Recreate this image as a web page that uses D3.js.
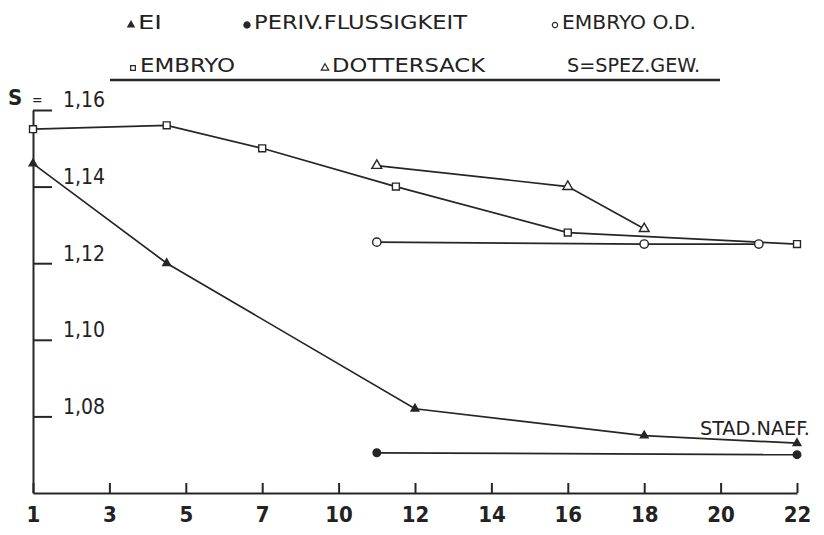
<!DOCTYPE html>
<html lang="de">
<head>
<meta charset="UTF-8">
<title>Spez. Gewicht</title>
<style>
	*{margin:0;padding:0;}
	body{background:#fff;}
	#chart{width:824px;height:535px;}
	text{font-family:"DejaVu Sans Condensed","DejaVu Sans",sans-serif;fill:#222;}
</style>
</head>
<body>
<div id="chart"></div>
<script src="https://cdn.jsdelivr.net/npm/d3@7"></script>
<script>
// stadien (x) und spez. gewicht (y)
var stageTicks = [1, 3, 5, 7, 10, 12, 14, 16, 18, 20, 22]
var sTicks = [1.08, 1.10, 1.12, 1.14, 1.16]

var eiStage = [1, 4.5, 12, 18, 22]
var eiS = [1.146, 1.120, 1.082, 1.075, 1.073]

var perivStage = [11, 22]
var perivS = [1.0705, 1.070]

var odStage = [11, 18, 21]
var odS = [1.1255, 1.125, 1.125]

var embryoStage = [1, 4.5, 7, 11.5, 16, 22]
var embryoS = [1.155, 1.156, 1.150, 1.140, 1.128, 1.125]

var dotterStage = [11, 16, 18]
var dotterS = [1.1455, 1.140, 1.129]

var W = 824, H = 535
var x0 = 33, x1 = 797, yTop = 110, yBot = 493
var ink = '#262626'
var font = '"DejaVu Sans Condensed","DejaVu Sans",sans-serif'

var svg = d3.select('#chart').append('svg').attr('width', W).attr('height', H)

// x axis: stages are drawn at equal spacing
var step = (x1 - x0) / (stageTicks.length - 1)
var scale_x = d3.scaleLinear()
	.domain(stageTicks)
	.range(stageTicks.map(function(d, i){ return x0 + i * step }))
var scale_y = d3.scaleLinear().domain([1.06, 1.16]).range([yBot, yTop])

var xAxis = d3.axisBottom(scale_x).tickValues(stageTicks).tickFormat(d3.format('d'))
	.tickSizeInner(-10).tickSizeOuter(0).tickPadding(13)
var gx = svg.append('g').attr('transform', `translate(0,${yBot})`).call(xAxis)
gx.select('.domain').attr('stroke', ink).attr('stroke-width', 2.2)
gx.selectAll('.tick line').attr('stroke', ink).attr('stroke-width', 2)
gx.selectAll('.tick text').attr('font-size', 22).attr('font-weight', 'bold')
	.style('font-family', font).attr('fill', ink)

var yAxis = d3.axisRight(scale_y).tickValues(sTicks)
	.tickFormat(function(d){ return d3.format('.2f')(d).replace('.', ',') })
	.tickSizeInner(19).tickSizeOuter(0).tickPadding(11)
var gy = svg.append('g').attr('transform', `translate(${x0},0)`).call(yAxis)
gy.select('.domain').attr('stroke', ink).attr('stroke-width', 2)
gy.selectAll('.tick line').attr('stroke', ink).attr('stroke-width', 2)
gy.selectAll('.tick text').attr('font-size', 21).attr('dy', '-0.15em')
	.style('font-family', font).attr('fill', ink)

svg.append('text').attr('x', 8).attr('y', 105).attr('font-size', 22).attr('font-weight', 'bold').text('S')
svg.append('text').attr('x', 32).attr('y', 105).attr('font-size', 14).text('=')

// series
var line = d3.line().x(function(d){ return scale_x(d[0]) }).y(function(d){ return scale_y(d[1]) })

var series = [
	{stage: embryoStage, s: embryoS, sym: d3.symbolSquare, size: 48, fill: '#fff'},
	{stage: dotterStage, s: dotterS, sym: d3.symbolTriangle, size: 42, fill: '#fff'},
	{stage: odStage, s: odS, sym: d3.symbolCircle, size: 55, fill: '#fff'},
	{stage: eiStage, s: eiS, sym: d3.symbolTriangle, size: 26, fill: ink},
	{stage: perivStage, s: perivS, sym: d3.symbolCircle, size: 45, fill: ink}
]

series.forEach(function(sr){
	var pts = sr.stage.map(function(d, i){ return [d, sr.s[i]] })
	svg.append('path').attr('d', line(pts))
		.attr('fill', 'none').attr('stroke', ink).attr('stroke-width', 1.7)
	svg.append('g').selectAll('path').data(pts).enter().append('path')
		.attr('d', d3.symbol().type(sr.sym).size(sr.size))
		.attr('transform', function(d){ return `translate(${scale_x(d[0])},${scale_y(d[1])})` })
		.attr('fill', sr.fill).attr('stroke', ink).attr('stroke-width', 1.4)
})

svg.append('text').attr('x', 700).attr('y', 435).attr('font-size', 19)
	.attr('textLength', 110).attr('lengthAdjust', 'spacingAndGlyphs').text('STAD.NAEF.')

// legend
var legend = [
	{label: 'EI', x: 131, y: 29, sym: d3.symbolTriangle, size: 18, fill: ink, w: 24},
	{label: 'PERIV.FLUSSIGKEIT', x: 247, y: 29, sym: d3.symbolCircle, size: 30, fill: ink, w: 213},
	{label: 'EMBRYO O.D.', x: 555, y: 29, sym: d3.symbolCircle, size: 22, fill: '#fff', w: 134},
	{label: 'EMBRYO', x: 133, y: 72, sym: d3.symbolSquare, size: 22, fill: '#fff', w: 95},
	{label: 'DOTTERSACK', x: 325, y: 72, sym: d3.symbolTriangle, size: 24, fill: '#fff', w: 153},
	{label: 'S=SPEZ.GEW.', x: null, y: 72, w: 133}
]
legend.forEach(function(l){
	if (l.sym) {
		svg.append('path').attr('d', d3.symbol().type(l.sym).size(l.size)())
			.attr('transform', `translate(${l.x},${l.y - 4})`)
			.attr('fill', l.fill).attr('stroke', ink).attr('stroke-width', 1.2)
	}
	svg.append('text').attr('x', l.sym ? l.x + 7 : 567).attr('y', l.y)
		.attr('font-size', 20).attr('textLength', l.w).attr('lengthAdjust', 'spacingAndGlyphs')
		.text(l.label)
})
svg.append('line').attr('x1', 110).attr('x2', 720).attr('y1', 80).attr('y2', 80)
	.attr('stroke', ink).attr('stroke-width', 2.5)
</script>
</body>
</html>
